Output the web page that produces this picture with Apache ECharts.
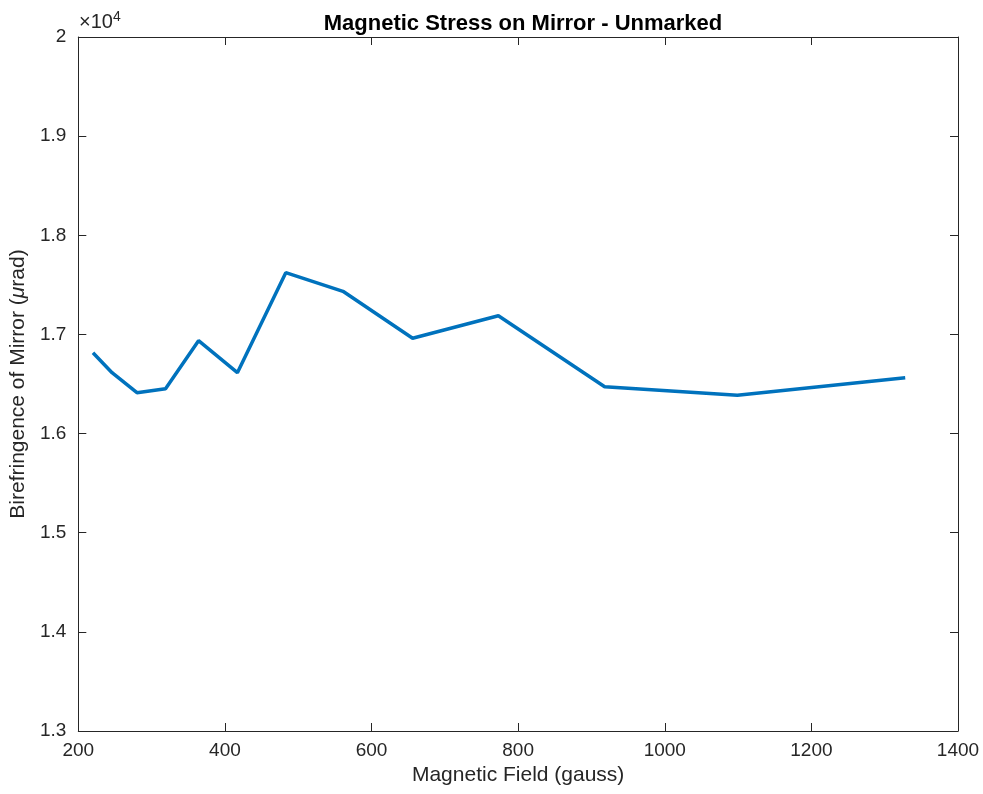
<!DOCTYPE html>
<html>
<head>
<meta charset="utf-8">
<script src="https://cdn.jsdelivr.net/npm/echarts@6/dist/echarts.min.js"></script>
<style>
  html, body { margin: 0; padding: 0; background: #fff; }
  #main { width: 983px; height: 794px; }
</style>
</head>
<body>
<div id="main"></div>
<script>
// magnetic field (gauss)
var fieldGauss = [220, 246, 280, 319, 364, 417, 483, 561, 656, 773, 918, 1099, 1328];
// birefringence (urad)
var birefringence = [16816, 16614, 16412, 16453, 16937, 16614, 17623, 17435, 16961, 17189, 16473, 16386, 16564];

var xTicks = { min: 200, max: 1400, interval: 200 };
var yTicks = { min: 13000, max: 20000, interval: 1000 };

var points = fieldGauss.map(function (x, i) { return [x, birefringence[i]]; });

var myChart = echarts.init(document.getElementById('main'));
var font = 'Liberation Sans, Arial, Helvetica, sans-serif';
var axisLine = { show: true, onZero: false, lineStyle: { color: '#262626', width: 1 } };
var tick = { show: true, inside: true, length: 8, lineStyle: { color: '#262626', width: 1 } };

var option = {
  animation: false,
  title: {
    text: 'Magnetic Stress on Mirror - Unmarked',
    left: 518,
    textAlign: 'center',
    top: 8,
    textStyle: { fontFamily: font, fontSize: 22, fontWeight: 'bold', color: '#000' }
  },
  grid: { left: 78, right: 25, top: 37, bottom: 63 },
  graphic: [{
    type: 'text',
    left: 79,
    top: 10,
    style: {
      text: '×10{sup|4}',
      fontFamily: font,
      fontSize: 20,
      fill: '#262626',
      rich: { sup: { fontSize: 14, verticalAlign: 'top', padding: [0, 0, 10, 0], fontFamily: font, fill: '#262626' } }
    }
  }],
  xAxis: [{
    type: 'value',
    min: xTicks.min, max: xTicks.max, interval: xTicks.interval,
    position: 'bottom',
    name: 'Magnetic Field (gauss)',
    nameLocation: 'middle',
    nameGap: 33,
    nameTextStyle: { fontFamily: font, fontSize: 21, color: '#262626' },
    axisLine: axisLine,
    axisTick: tick,
    splitLine: { show: false },
    axisLabel: {
      fontFamily: font, fontSize: 19, color: '#262626', margin: 10,
      formatter: function (v) { return String(v); }
    }
  }, {
    type: 'value',
    min: xTicks.min, max: xTicks.max, interval: xTicks.interval,
    position: 'top',
    axisLine: axisLine,
    axisTick: tick,
    splitLine: { show: false },
    axisLabel: { show: false }
  }],
  yAxis: [{
    type: 'value',
    min: yTicks.min, max: yTicks.max, interval: yTicks.interval,
    position: 'left',
    name: 'Birefringence of Mirror ({it|μ}rad)',
    nameLocation: 'middle',
    nameGap: 41,
    nameTextStyle: {
      fontFamily: font, fontSize: 21, color: '#262626',
      rich: { it: { fontFamily: font, fontSize: 21, fontStyle: 'italic', color: '#262626' } }
    },
    axisLine: axisLine,
    axisTick: tick,
    splitLine: { show: false },
    axisLabel: {
      fontFamily: font, fontSize: 19, color: '#262626', margin: 12,
      formatter: function (v) { return String(Math.round(v / 100) / 100); }
    }
  }, {
    type: 'value',
    min: yTicks.min, max: yTicks.max, interval: yTicks.interval,
    position: 'right',
    axisLine: axisLine,
    axisTick: tick,
    splitLine: { show: false },
    axisLabel: { show: false }
  }],
  series: [{
    type: 'line',
    data: points,
    showSymbol: false,
    lineStyle: { color: '#0072BD', width: 3.5 },
    itemStyle: { color: '#0072BD' }
  }]
};
myChart.setOption(option);
</script>
</body>
</html>
